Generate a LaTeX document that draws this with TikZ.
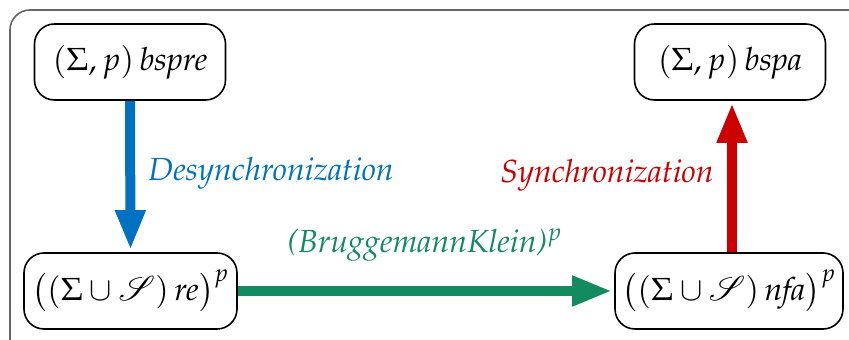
\documentclass[tikz,border=0pt]{standalone}
\usepackage[T1]{fontenc}
\usepackage{mathpazo}
\usepackage{mathrsfs}
\usetikzlibrary{arrows.meta}
\definecolor{myblue}{RGB}{0,112,192}
\definecolor{mygreen}{RGB}{19,138,96}
\definecolor{myred}{RGB}{204,0,0}
\tikzset{
  stbox/.style={draw=black, line width=0.8pt, rounded corners=10pt, minimum height=38pt, inner sep=0pt, font=\fontsize{16}{19}\selectfont},
  bigarrow/.style={line width=5pt, -{Triangle[length=20pt,width=14pt]}, shorten >=1pt},
  lbl/.style={font=\fontsize{16}{19}\selectfont, inner sep=0pt}
}
\begin{document}
\begin{tikzpicture}[x=0.5pt,y=-0.5pt]
\useasboundingbox (0,0) rectangle (849,340);
\begin{scope}
\clip (0,0) rectangle (849,340);
\draw[gray!80!black, line width=0.8pt, rounded corners=10pt] (10,10) rectangle (870,360);
\end{scope}
\node[stbox, minimum width=95.5pt] (bspre) at (130,62) {$(\Sigma, p)\,\mathit{bspre}$};
\node[stbox, minimum width=95.5pt] (bspa) at (730,62) {$(\Sigma, p)\,\mathit{bspa}$};
\node[stbox, minimum width=106.5pt] (re) at (130.5,291) {$\big((\Sigma\cup\mathscr{S})\,\mathit{re}\big)^p$};
\node[stbox, minimum width=114pt] (nfa) at (729,291) {$\big((\Sigma\cup\mathscr{S})\,\mathit{nfa}\big)^p$};
\draw[bigarrow, myblue] (bspre.south) -- (re.north);
\draw[bigarrow, mygreen] (re.east) -- (nfa.west);
\draw[bigarrow, myred] (nfa.north -| 732,0) -- (bspa.south -| 732,0);
\node[lbl, myblue, anchor=west] (d) at (148,173) {\textit{Desynchronization}};
\node[lbl, myred, anchor=east] (s) at (714,175) {\textit{Synchronization}};
\node[lbl, mygreen] (b) at (425,245) {\textit{(BruggemannKlein)}$^p$};
\end{tikzpicture}
\end{document}
